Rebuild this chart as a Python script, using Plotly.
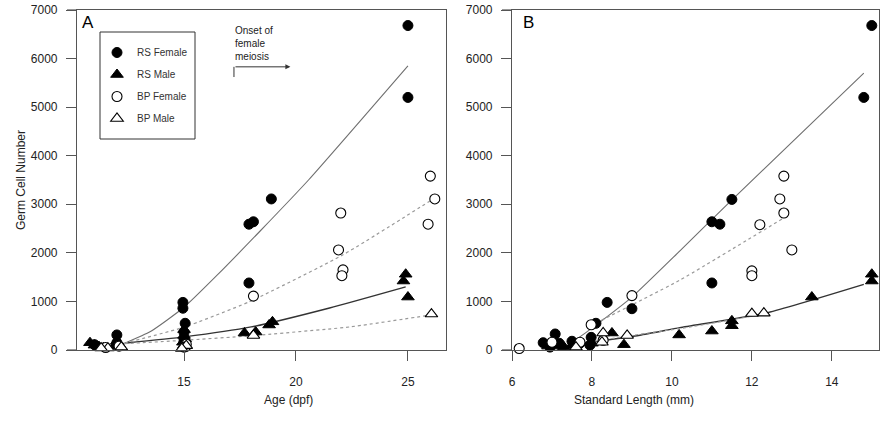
import plotly.graph_objects as go

# ---------------- data ----------------
# Panel A: Age (dpf) vs germ cell number
rsf_a_age = [25.0, 25.0, 18.9, 17.9, 18.1, 17.9, 14.95, 14.95, 15.05, 15.0, 15.0, 12.0, 12.0, 12.05, 11.0]
rsf_a_n = [6680, 5200, 3110, 2590, 2640, 1380, 980, 860, 550, 360, 220, 310, 150, 90, 110]
rsm_a_age = [24.9, 24.8, 25.0, 18.95, 18.8, 17.7, 18.2, 15.0, 15.0, 15.05, 14.95, 15.0, 12.0, 12.1, 11.9, 10.8, 11.0, 11.2, 11.4]
rsm_a_n = [1560, 1420, 1090, 580, 515, 350, 370, 420, 300, 230, 160, 100, 180, 120, 90, 150, 100, 70, 50]
bpf_a_age = [26.0, 26.2, 25.9, 22.0, 21.9, 22.1, 22.05, 18.1, 15.1, 15.0, 12.1, 11.5]
bpf_a_n = [3580, 3110, 2590, 2820, 2060, 1650, 1530, 1110, 120, 60, 80, 50]
bpm_a_age = [26.05, 18.1, 15.0, 15.1, 14.9, 12.2, 11.6, 11.3]
bpm_a_n = [740, 300, 50, 90, 30, 60, 40, 40]

# fitted curves, panel A
fit_rsf_a_x = [12.35, 13.5, 15.0, 16.5, 18.4, 20.56, 25.0]
fit_rsf_a_y = [140, 380, 880, 1550, 2450, 3500, 5850]
fit_rsm_a_x = [12.35, 15.0, 18.0, 21.5, 24.9]
fit_rsm_a_y = [140, 270, 475, 865, 1300]
fit_bpf_a_x = [12.35, 15.0, 17.9, 22.1, 26.2]
fit_bpf_a_y = [140, 470, 990, 1960, 3130]
fit_bpm_a_x = [12.35, 15.0, 17.9, 22.4, 26.0]
fit_bpm_a_y = [130, 200, 290, 475, 720]

# Panel B: Standard length (mm) vs germ cell number
rsf_b_sl = [15.0, 14.8, 11.5, 11.0, 11.2, 11.0, 8.38, 9.0, 8.1, 7.98, 7.08, 6.78, 7.18, 6.95, 7.5, 7.7, 7.95]
rsf_b_n = [6680, 5200, 3100, 2640, 2590, 1380, 980, 850, 550, 260, 330, 150, 140, 60, 180, 140, 100]
rsm_b_sl = [15.0, 15.0, 13.5, 11.5, 11.5, 11.0, 10.18, 8.5, 8.8, 7.2, 8.0, 7.5, 6.9, 7.3]
rsm_b_n = [1560, 1420, 1090, 600, 500, 390, 310, 350, 110, 80, 140, 100, 80, 60]
bpf_b_sl = [12.8, 12.7, 12.8, 12.2, 13.0, 12.0, 12.0, 9.0, 7.98, 6.18, 7.7, 7.0, 8.28]
bpf_b_n = [3580, 3110, 2820, 2580, 2060, 1630, 1530, 1120, 520, 30, 160, 160, 200]
bpm_b_sl = [12.0, 12.3, 8.28, 8.88, 8.25, 7.6]
bpm_b_n = [750, 760, 350, 300, 160, 60]

fit_rsf_b_x = [7.45, 8.03, 9.0, 10.2, 11.45, 14.8]
fit_rsf_b_y = [120, 470, 1090, 2040, 3050, 5700]
fit_rsm_b_x = [7.8, 9.2, 10.2, 12.4, 14.8]
fit_rsm_b_y = [140, 305, 460, 770, 1350]
fit_bpf_b_x = [8.1, 8.25, 10.2, 12.8]
fit_bpf_b_y = [570, 620, 1440, 2720]
fit_bpm_b_x = [7.6, 9.0, 10.5, 12.3]
fit_bpm_b_y = [120, 300, 480, 740]

series_names = ["RS Female", "RS Male", "BP Female", "BP Male"]
y_ticks = [0, 1000, 2000, 3000, 4000, 5000, 6000, 7000]
x_ticks_a = [15, 20, 25]
x_ticks_b = [6, 8, 10, 12, 14]

# ---------------- styling ----------------
W, H = 884, 436
FONT = "Liberation Sans Narrow, Liberation Sans, Arial, sans-serif"
FONT2 = "Liberation Sans, Arial, sans-serif"
AX = "#555555"

styles = {
    "RS Female": dict(symbol="circle", color="black", line=dict(color="black", width=1)),
    "RS Male": dict(symbol="triangle-up", color="black", line=dict(color="black", width=1)),
    "BP Female": dict(symbol="circle", color="white", line=dict(color="black", width=1.1)),
    "BP Male": dict(symbol="triangle-up", color="white", line=dict(color="black", width=1.1)),
}
sizes = {"RS Female": 10, "RS Male": 11, "BP Female": 10, "BP Male": 11}

fig = go.Figure()

def add_fit(x, y, xa, color, dash, width):
    fig.add_trace(go.Scatter(x=x, y=y, mode="lines", xaxis=xa, yaxis="y" if xa == "x" else "y2",
                             line=dict(color=color, dash=dash, width=width, shape="spline", smoothing=0.5),
                             showlegend=False, hoverinfo="skip"))

# fitted lines (behind markers)
add_fit(fit_rsf_a_x, fit_rsf_a_y, "x", "#6f6f6f", "solid", 1.1)
add_fit(fit_rsm_a_x, fit_rsm_a_y, "x", "#333333", "solid", 1.4)
add_fit(fit_bpf_a_x, fit_bpf_a_y, "x", "#9a9a9a", "dot", 1.2)
add_fit(fit_bpm_a_x, fit_bpm_a_y, "x", "#9a9a9a", "dot", 1.2)
add_fit(fit_rsf_b_x, fit_rsf_b_y, "x2", "#6f6f6f", "solid", 1.1)
add_fit(fit_rsm_b_x, fit_rsm_b_y, "x2", "#333333", "solid", 1.4)
add_fit(fit_bpf_b_x, fit_bpf_b_y, "x2", "#9a9a9a", "dot", 1.2)
add_fit(fit_bpm_b_x, fit_bpm_b_y, "x2", "#9a9a9a", "dot", 1.2)

data_a = {"RS Female": (rsf_a_age, rsf_a_n), "RS Male": (rsm_a_age, rsm_a_n),
          "BP Female": (bpf_a_age, bpf_a_n), "BP Male": (bpm_a_age, bpm_a_n)}
data_b = {"RS Female": (rsf_b_sl, rsf_b_n), "RS Male": (rsm_b_sl, rsm_b_n),
          "BP Female": (bpf_b_sl, bpf_b_n), "BP Male": (bpm_b_sl, bpm_b_n)}

for name in series_names:
    st = styles[name]
    mk = dict(symbol=st["symbol"], color=st["color"], size=sizes[name], line=st["line"])
    xa, ya = data_a[name]
    fig.add_trace(go.Scatter(x=xa, y=ya, mode="markers", name=name, marker=mk,
                             xaxis="x", yaxis="y", legendgroup=name, cliponaxis=False))
    xb, yb = data_b[name]
    fig.add_trace(go.Scatter(x=xb, y=yb, mode="markers", name=name, marker=mk,
                             xaxis="x2", yaxis="y2", showlegend=False, legendgroup=name,
                             cliponaxis=False))

# ---------------- axes ----------------
def px_x(p):
    return p / W

def px_y(p):
    return 1 - p / H

dom_a = [px_x(77), px_x(446)]
dom_b = [px_x(512), px_x(879)]
dom_y = [px_y(350), px_y(10)]

common_x = dict(showline=True, linecolor=AX, linewidth=1.2, mirror=True, ticks="outside",
                ticklen=10, tickcolor=AX, tickwidth=1.2, showgrid=False, zeroline=False,
                automargin=False,
                tickfont=dict(family=FONT, size=12, color="#222"), ticklabelstandoff=10)
common_y = dict(showline=True, linecolor=AX, linewidth=1.2, mirror=True, ticks="outside",
                ticklen=10, tickcolor=AX, tickwidth=1.2, showgrid=False, zeroline=False,
                tickvals=y_ticks, range=[0, 7000], automargin=False,
                tickfont=dict(family=FONT, size=12, color="#222"), ticklabelstandoff=6)

fig.update_layout(
    width=W, height=H, margin=dict(l=0, r=0, t=0, b=0, autoexpand=False),
    paper_bgcolor="white", plot_bgcolor="white",
    xaxis=dict(domain=dom_a, range=[10.22, 26.7], tickvals=x_ticks_a, anchor="y", **common_x),
    yaxis=dict(domain=dom_y, anchor="x", **common_y),
    xaxis2=dict(domain=dom_b, range=[6.0, 15.18], tickvals=x_ticks_b, anchor="y2", **common_x),
    yaxis2=dict(domain=dom_y, anchor="x2", **common_y),
    legend=dict(x=px_x(97), y=px_y(38), xanchor="left", yanchor="top",
                borderwidth=0, bgcolor="rgba(0,0,0,0)",
                font=dict(family=FONT2, size=10, color="#333"),
                tracegroupgap=3, traceorder="grouped", itemsizing="trace"),
    showlegend=True,
)

# legend frame
fig.add_shape(type="rect", xref="paper", yref="paper", x0=px_x(100), x1=px_x(195),
              y0=px_y(139), y1=px_y(32), line=dict(color="#333", width=1), layer="below",
              fillcolor="white")

# axis line stubs extending left of the y axes (as in the reference)
for x0, x1 in [(67, 77), (502, 512)]:
    for yy in (10, 350):
        fig.add_shape(type="line", xref="paper", yref="paper", x0=px_x(x0), x1=px_x(x1),
                      y0=px_y(yy), y1=px_y(yy), line=dict(color=AX, width=1.2))

# ---------------- text ----------------
ann = []
ann.append(dict(text="A", x=px_x(80), y=px_y(23), xref="paper", yref="paper", showarrow=False,
                xanchor="left", yanchor="middle", font=dict(family=FONT2, size=17, color="black")))
ann.append(dict(text="B", x=px_x(521), y=px_y(23), xref="paper", yref="paper", showarrow=False,
                xanchor="left", yanchor="middle", font=dict(family=FONT2, size=17, color="black")))
ann.append(dict(text="Germ Cell Number", x=px_x(12), y=px_y(180), xref="paper", yref="paper",
                showarrow=False, textangle=-90, font=dict(family=FONT, size=12, color="#222")))
ann.append(dict(text="Age (dpf)", x=px_x(262), y=px_y(409), xref="paper", yref="paper",
                showarrow=False, font=dict(family=FONT, size=12, color="#222")))
ann.append(dict(text="Standard Length (mm)", x=px_x(696), y=px_y(409), xref="paper", yref="paper",
                showarrow=False, font=dict(family=FONT, size=12, color="#222")))
ann.append(dict(text="Onset of<br>female<br>meiosis", x=px_x(233), y=px_y(23), xref="paper",
                yref="paper", showarrow=False, xanchor="left", yanchor="top", align="left",
                font=dict(family=FONT2, size=10, color="#222")))
# arrow for onset of meiosis
ann.append(dict(text="", x=19.75, y=5830, ax=17.23, ay=5830, xref="x", yref="y", axref="x",
                ayref="y", showarrow=True, arrowhead=2, arrowsize=1, arrowwidth=1,
                arrowcolor="#333"))
fig.update_layout(annotations=ann)

fig.add_shape(type="line", xref="x", yref="y", x0=17.23, x1=17.23, y0=5830, y1=5620,
              line=dict(color="#333", width=1))

fig.write_html("out.html", config={"displayModeBar": False},
               post_script="document.body.style.margin='0px';document.body.style.padding='0px';")
